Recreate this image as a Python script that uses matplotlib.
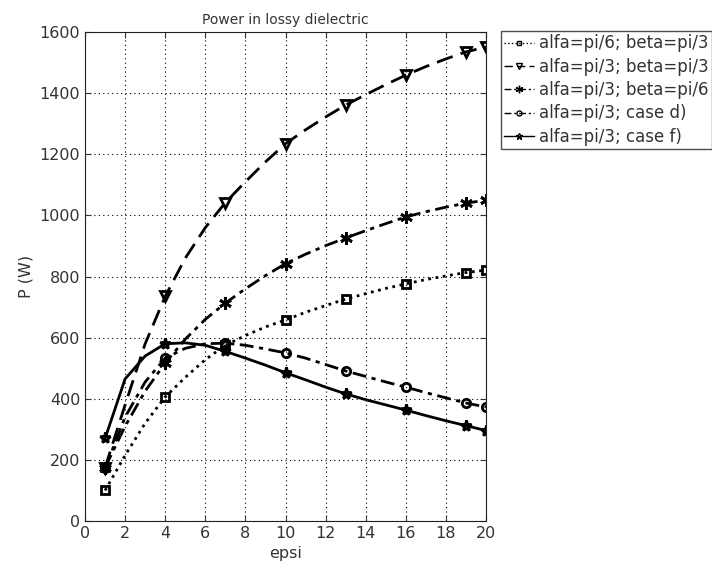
import matplotlib
matplotlib.use("Agg")
import matplotlib.pyplot as plt

# epsi values (integer steps), markers every 3rd point plus the last one
epsi = list(range(1, 21))
marks = [0, 3, 6, 9, 12, 15, 18, 19]

p_a6_b3 = [100, 215, 320, 406, 470, 528, 575, 607, 635, 658,
           683, 705, 726, 744, 761, 776, 790, 802, 813, 821]
p_a3_b3 = [175, 380, 580, 735, 860, 960, 1042, 1110, 1175, 1235,
           1280, 1322, 1361, 1395, 1428, 1459, 1487, 1512, 1535, 1551]
p_a3_b6 = [175, 310, 425, 517, 595, 660, 713, 760, 803, 842,
           873, 901, 926, 950, 973, 995, 1012, 1027, 1040, 1050]
p_case_d = [172, 340, 455, 533, 565, 580, 582, 575, 563, 550,
            533, 512, 491, 473, 455, 438, 420, 403, 386, 373]
p_case_f = [270, 465, 540, 580, 583, 575, 555, 533, 510, 485,
            462, 438, 416, 397, 380, 363, 345, 328, 312, 296]

labels = ["alfa=pi/6; beta=pi/3", "alfa=pi/3; beta=pi/3",
          "alfa=pi/3; beta=pi/6", "alfa=pi/3; case d)", "alfa=pi/3; case f)"]

plt.rcParams["font.family"] = "DejaVu Sans"
plt.rcParams["font.size"] = 9

fig = plt.figure(figsize=(7.12, 5.78), dpi=100)
ax = fig.add_axes([0.1194, 0.0986, 0.5632, 0.846])

styles = [
    dict(ls=":", marker="s", ms=6),
    dict(ls=(0, (6, 3)), marker="v", ms=7),
    dict(ls=(0, (5, 2, 1.5, 2)), marker=(6, 2, 0), ms=9),
    dict(ls=(0, (5, 2, 1.5, 2)), marker="o", ms=6),
    dict(ls="-", marker="*", ms=8),
]
series = [p_a6_b3, p_a3_b3, p_a3_b6, p_case_d, p_case_f]

for vals, st, lab in zip(series, styles, labels):
    ax.plot(epsi, vals, color="black", lw=2, markevery=marks,
            mfc="none", mec="black", mew=2, label=lab, **st)

ax.set_xlim(0, 20)
ax.set_ylim(0, 1600)
ax.set_xticks(range(0, 21, 2))
ax.set_yticks(range(0, 1601, 200))
ax.grid(True, ls=(0, (1, 3)), color="black", lw=0.8)
ax.tick_params(direction="in", top=True, right=True, labelsize=11.5,
               colors="#333333", length=4)
for s in ax.spines.values():
    s.set_color("#222222")

ax.set_title("Power in lossy dielectric", fontsize=10, color="#333333")
ax.set_xlabel("epsi", fontsize=11.5, color="#333333")
ax.set_ylabel("P (W)", fontsize=11.5, color="#333333")

leg = ax.legend(loc="upper left", bbox_to_anchor=(501 / 712, 1 - 31 / 578),
                bbox_transform=fig.transFigure, fontsize=12, frameon=True,
                fancybox=False, edgecolor="#222222", handlelength=1.8,
                handletextpad=0.3, borderaxespad=0, borderpad=0.2,
                labelspacing=0.32, markerscale=0.6)
for t in leg.get_texts():
    t.set_color("#333333")
for h in leg.get_lines():
    h.set_linewidth(1)
    h.set_markeredgewidth(1)

fig.savefig("out.png", dpi=100)
